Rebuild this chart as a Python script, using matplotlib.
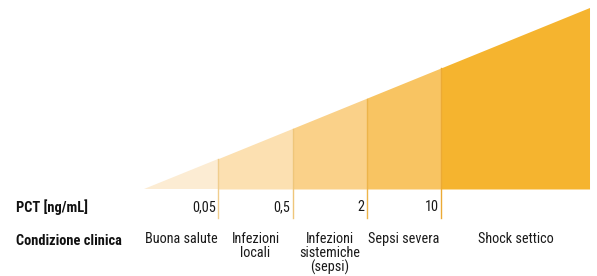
import matplotlib.pyplot as plt
from matplotlib import font_manager

# Data
pct_thresholds = ["0,05", "0,5", "2", "10"]
conditions = ["Buona salute", "Infezioni\nlocali", "Infezioni\nsistemiche\n(sepsi)",
              "Sepsi severa", "Shock settico"]
boundaries = [0, 1, 2, 3, 4, 6]  # segment edges along the wedge
fill_colors = ["#FCECD3", "#FCE0B1", "#FAD189", "#F8C462", "#F5B42F"]
line_colors = ["#F0CD8E", "#EFC67A", "#EDB44A", "#EBAA35"]

names = {f.name for f in font_manager.fontManager.ttflist}
candidates = ["Roboto Condensed", "Open Sans Condensed", "Fira Sans Condensed",
              "PT Sans Narrow", "Liberation Sans Narrow", "DejaVu Sans"]
family = next(c for c in candidates if c in names)
plt.rcParams["font.family"] = [family, "DejaVu Sans"]

fig = plt.figure(figsize=(5.97, 2.76), dpi=100)
ax = fig.add_axes([0, 0, 1, 1])
ax.set_xlim(-1.937, 6.094)
ax.set_ylim(-0.4766, 1.044)
ax.axis("off")

top = boundaries[-1]
for i, c in enumerate(fill_colors):
    x0, x1 = boundaries[i], boundaries[i + 1]
    ax.fill([x0, x1, x1, x0], [0, 0, x1 / top, x0 / top], color=c, lw=0)

# dividers and threshold values
for i, lab in enumerate(pct_thresholds):
    xb = boundaries[i + 1]
    ax.plot([xb, xb], [-0.157, xb / top], color=line_colors[i], lw=1)
    ax.text(xb - 0.035, -0.0964, lab, ha="right", va="center", fontsize=10.3,
            color="#1a1a1a")

for i, lab in enumerate(conditions):
    xc = (boundaries[i] + boundaries[i + 1]) / 2
    ax.text(xc, -0.236, lab, ha="center", va="top", fontsize=10.3, color="#1a1a1a",
            linespacing=0.95)

ax.text(-1.72, -0.0964, "PCT [ng/mL]", ha="left", va="center", fontsize=10.4,
        fontweight="bold", color="#111111")
ax.text(-1.72, -0.284, "Condizione clinica", ha="left", va="center", fontsize=10.4,
        fontweight="bold", color="#111111")

fig.savefig("out.png", dpi=100)
